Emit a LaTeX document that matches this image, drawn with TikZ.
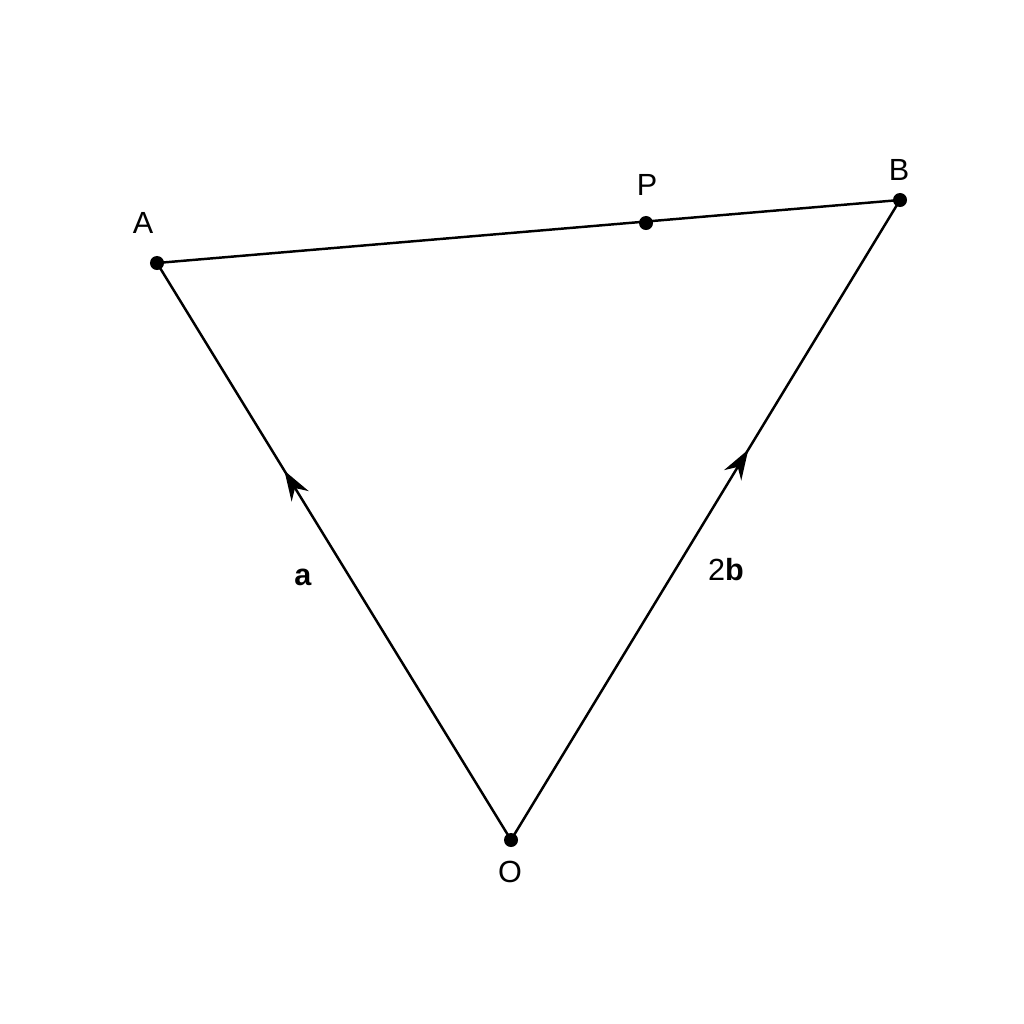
\documentclass[tikz,border=0pt]{standalone}
\usepackage{fontspec}
\setmainfont{Liberation Sans}
\usetikzlibrary{arrows.meta,decorations.markings}
\begin{document}
\begin{tikzpicture}[x=0.01cm,y=-0.01cm,
  seg/.style={line width=0.7pt},
  dotpt/.style={circle,fill=black,inner sep=0pt,minimum size=0.14cm},
  lbl/.style={font=\fontsize{8.7pt}{10pt}\selectfont,inner sep=0pt},
  midarrow/.style={postaction={decorate},decoration={markings,
    mark=at position #1 with {\arrow{Stealth[length=0.3cm,width=0.2cm]}}}}]
\useasboundingbox (0,0) rectangle (1024,1024);
\fill[white] (0,0) rectangle (1024,1024);
\node[dotpt] (A) at (157,263) {};
\node[dotpt] (B) at (900,200) {};
\node[dotpt] (P) at (646,223) {};
\node[dotpt] (O) at (511,840) {};
\draw[seg] (A.center) -- (B.center);
\draw[seg,midarrow=0.64] (O.center) -- (A.center);
\draw[seg,midarrow=0.61] (O.center) -- (B.center);
\node[lbl] (lA) at (143,223) {A};
\node[lbl] (lB) at (899,170) {B};
\node[lbl] (lP) at (647,185) {P};
\node[lbl] (lO) at (510,872) {O};
\node[lbl] (la) at (303,577) {\textbf{a}};
\node[lbl] (lb) at (726,570) {2\textbf{b}};
\end{tikzpicture}
\end{document}
